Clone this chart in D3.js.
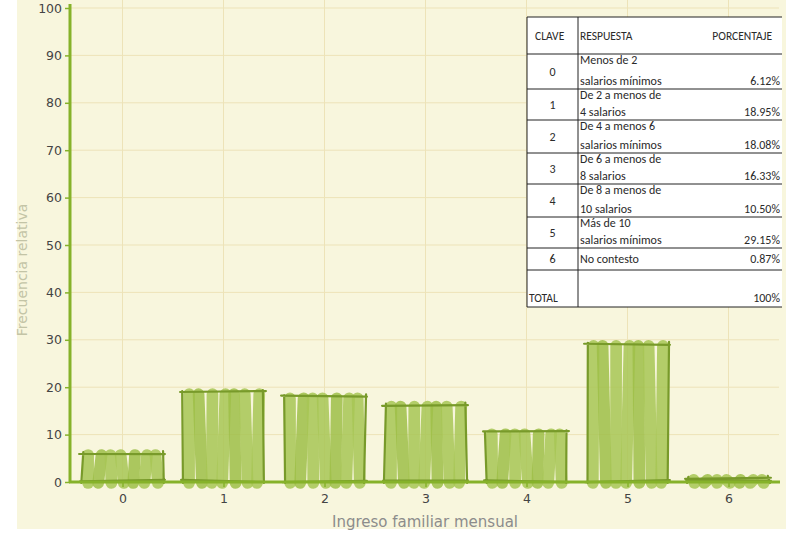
<!DOCTYPE html>
<html>
<head>
<meta charset="utf-8">
<script src="https://cdn.jsdelivr.net/npm/d3@7"></script>
<style>
  body { margin: 0; background: #fff; }
  #chart { position: relative; width: 786px; height: 533px; }
</style>
</head>
<body>
<div id="chart"></div>
<script>
// data
const claves = [0, 1, 2, 3, 4, 5, 6]
const porcentajes = [6.12, 18.95, 18.08, 16.33, 10.50, 29.15, 0.87]
const respuestas = [
  ["Menos de 2", "salarios mínimos"],
  ["De 2 a menos de", "4 salarios"],
  ["De 4 a menos 6", "salarios mínimos"],
  ["De 6 a menos de", "8 salarios"],
  ["De 8 a menos de", "10 salarios"],
  ["Más de 10", "salarios mínimos"],
  ["No contesto"]
]
const yTicks = [0, 10, 20, 30, 40, 50, 60, 70, 80, 90, 100]

const W = 786, H = 533

const svg = d3.select("#chart")
  .append("svg")
    .attr("width", W)
    .attr("height", H)
    .style("font-family", "'DejaVu Sans', Verdana, sans-serif")

// cream panel
svg.append("rect")
  .attr("x", 17).attr("y", 0)
  .attr("width", W - 17).attr("height", 529)
  .attr("fill", "#f8f6dd")

const x = d3.scaleLinear().domain([-0.5, 6.5]).range([72, 779])
const y = d3.scaleLinear().domain([0, 100]).range([482, 8])

// grid
const grid = svg.append("g").attr("stroke", "#ede3b8").attr("stroke-width", 1)
grid.selectAll(".gy").data(yTicks.slice(1)).join("line")
  .attr("x1", 70).attr("x2", 779)
  .attr("y1", d => y(d)).attr("y2", d => y(d))
grid.selectAll(".gx").data(claves).join("line")
  .attr("x1", d => x(d)).attr("x2", d => x(d))
  .attr("y1", 0).attr("y2", 482)

// hand-drawn looking bars
const bw = 0.8 * (x(1) - x(0))
const fillCol = "#a7c655", lineCol = "#789a2a"
const bars = svg.append("g")

claves.forEach((c, i) => {
  const v = porcentajes[i]
  const x0 = x(c) - bw / 2, x1 = x(c) + bw / 2
  const top = y(v), bot = y(0)
  const g = bars.append("g")
  const n = 7
  const step = (bw - 12) / (n - 1)
  d3.range(n).forEach(k => {
    const sx = x0 + 6 + k * step
    const wob = Math.sin(i * 3.1 + k * 1.7) * 2
    g.append("line")
      .attr("x1", sx + wob).attr("y1", Math.min(top + 2, bot - 2))
      .attr("x2", sx - wob * 0.7).attr("y2", bot + 1)
      .attr("stroke", k % 3 === 1 ? "#9dbe48" : fillCol)
      .attr("stroke-opacity", 0.85)
      .attr("stroke-width", step * 1.02)
      .attr("stroke-linecap", "round")
  })
  // sketchy outline
  const j = k => Math.sin(i * 2.3 + k) * 1.2
  const outline = d3.path()
  outline.moveTo(x0 - 3, top + j(1)); outline.lineTo(x1 + 2, top + j(2))
  outline.moveTo(x1 + j(3), top - 2); outline.lineTo(x1 - j(4), bot + 1)
  outline.moveTo(x1 + 2, bot - 1 + j(5)); outline.lineTo(x0 - 2, bot - 1 - j(6))
  outline.moveTo(x0 - j(7), bot + 1); outline.lineTo(x0 + j(8), top - 1)
  g.append("path")
    .attr("d", outline.toString())
    .attr("fill", "none")
    .attr("stroke", lineCol)
    .attr("stroke-width", 2.2)
    .attr("stroke-linecap", "round")
})

// axes
const axisCol = "#86b22a"
const yAxis = svg.append("g")
  .attr("transform", "translate(70,0)")
  .call(d3.axisLeft(y).tickValues(yTicks).tickSize(5).tickPadding(3))
const xAxis = svg.append("g")
  .attr("transform", "translate(0,482)")
  .call(d3.axisBottom(x).tickValues(claves).tickFormat(d3.format("d")).tickSize(5).tickPadding(7))
;[yAxis, xAxis].forEach(a => {
  a.select(".domain").remove()
  a.selectAll(".tick line").attr("stroke", axisCol).attr("stroke-width", 1.5)
  a.selectAll(".tick text").attr("fill", "#444").style("font-size", "12.5px")
    .style("font-family", "'DejaVu Sans', Verdana, sans-serif")
})
svg.append("line").attr("x1", 70).attr("x2", 70).attr("y1", 4).attr("y2", 483)
  .attr("stroke", axisCol).attr("stroke-width", 3)
svg.append("line").attr("x1", 69).attr("x2", 780).attr("y1", 482).attr("y2", 482)
  .attr("stroke", axisCol).attr("stroke-width", 3)

// axis titles
svg.append("text")
  .attr("transform", "translate(27,270) rotate(-90)")
  .attr("text-anchor", "middle")
  .attr("fill", "#c3c4a6")
  .style("font-size", "14px")
  .text("Frecuencia relativa")
svg.append("text")
  .attr("x", 425).attr("y", 527)
  .attr("text-anchor", "middle")
  .attr("fill", "#8c8c8c")
  .style("font-size", "15px")
  .text("Ingreso familiar mensual")

// table
const tx0 = 527, tx1 = 782, tcol = 578
const rowLines = [17, 54, 89, 120, 153, 184, 217, 248, 270, 307]
const tbl = svg.append("g").style("font-family", "Carlito, 'Liberation Sans', sans-serif")
  .style("font-size", "12px").attr("fill", "#2a2a2a")
tbl.append("rect")
  .attr("x", tx0).attr("y", rowLines[0])
  .attr("width", tx1 - tx0).attr("height", rowLines[rowLines.length - 1] - rowLines[0])
  .attr("fill", "#fff")
tbl.selectAll(".rl").data(rowLines).join("line")
  .attr("x1", tx0).attr("x2", tx1)
  .attr("y1", d => d).attr("y2", d => d)
  .attr("stroke", "#222").attr("stroke-width", 1)
tbl.append("line").attr("x1", tcol).attr("x2", tcol)
  .attr("y1", rowLines[0]).attr("y2", rowLines[rowLines.length - 1])
  .attr("stroke", "#222")
tbl.append("line").attr("x1", tx0).attr("x2", tx0)
  .attr("y1", rowLines[0]).attr("y2", rowLines[rowLines.length - 1])
  .attr("stroke", "#222")

const hy = 40
tbl.append("text").attr("x", 535).attr("y", hy).style("font-size", "11.5px").text("CLAVE")
tbl.append("text").attr("x", 580).attr("y", hy).style("font-size", "11.5px").text("RESPUESTA")
tbl.append("text").attr("x", 772).attr("y", hy).attr("text-anchor", "end").style("font-size", "11.5px").text("PORCENTAJE")

claves.forEach((c, i) => {
  const r0 = rowLines[i + 1], r1 = rowLines[i + 2]
  const lines = respuestas[i]
  tbl.append("text")
    .attr("x", (tx0 + tcol) / 2).attr("y", (r0 + r1) / 2 + 4)
    .attr("text-anchor", "middle")
    .text(c)
  lines.forEach((t, k) => {
    tbl.append("text")
      .attr("x", 580)
      .attr("y", lines.length === 2 ? (k === 0 ? r0 + 10 : r1 - 4) : (r0 + r1) / 2 + 4)
      .text(t)
  })
  tbl.append("text")
    .attr("x", 780).attr("y", lines.length === 2 ? r1 - 4 : (r0 + r1) / 2 + 4)
    .attr("text-anchor", "end")
    .text(porcentajes[i].toFixed(2) + "%")
})
const rt1 = rowLines[rowLines.length - 1]
tbl.append("text").attr("x", 529).attr("y", rt1 - 5).style("font-size", "11.5px").text("TOTAL")
tbl.append("text").attr("x", 780).attr("y", rt1 - 5).attr("text-anchor", "end")
  .text(d3.format(".0f")(d3.sum(porcentajes)) + "%")
</script>
</body>
</html>
